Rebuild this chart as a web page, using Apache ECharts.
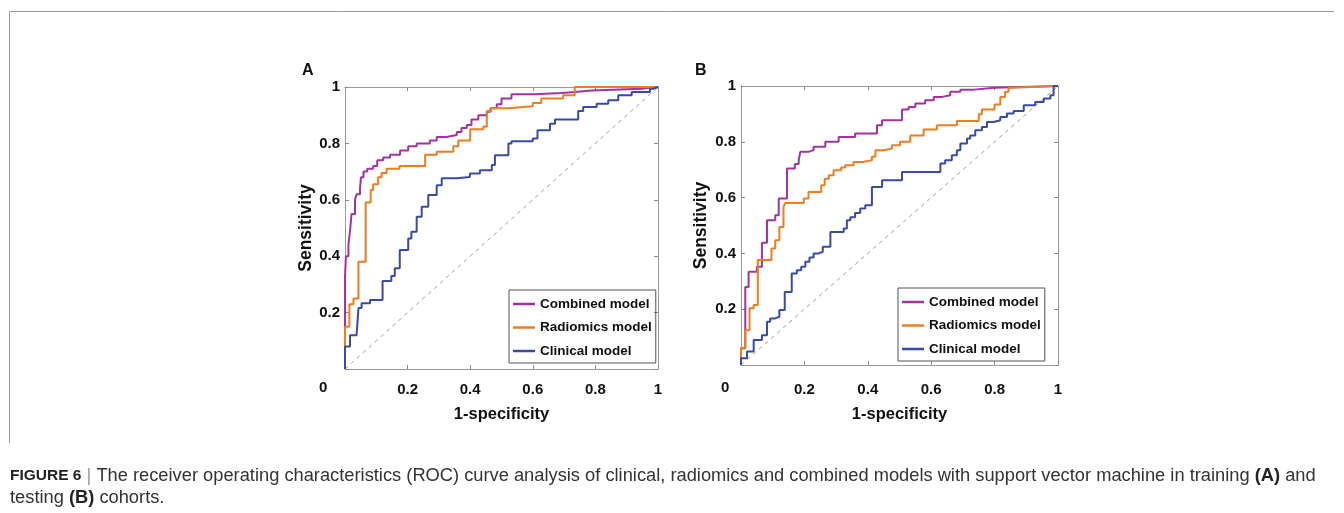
<!DOCTYPE html>
<html>
<head>
<meta charset="utf-8">
<script src="https://cdn.jsdelivr.net/npm/echarts@6/dist/echarts.min.js"></script>
<style>
html, body { margin: 0; padding: 0; background: #fff; }
#chart { width: 1344px; height: 513px; }
</style>
</head>
<body>
<div id="chart"></div>
<script>
// ROC curves, [1-specificity, sensitivity] at each step corner
const modelNames = ['Combined model', 'Radiomics model', 'Clinical model'];
const tickValues = [0, 0.2, 0.4, 0.6, 0.8, 1];

// panel A - training cohort
const combinedA = [[0,0],[0,0.33],[0.003,0.40],[0.011,0.44],[0.016,0.49],[0.021,0.55],[0.032,0.60],[0.037,0.62],[0.048,0.64],[0.051,0.68],[0.059,0.70],[0.071,0.71],[0.09,0.72],[0.103,0.74],[0.122,0.75],[0.144,0.76],[0.176,0.775],[0.202,0.79],[0.229,0.80],[0.271,0.81],[0.293,0.823],[0.324,0.83],[0.357,0.84],[0.372,0.855],[0.389,0.865],[0.404,0.885],[0.426,0.90],[0.453,0.912],[0.465,0.925],[0.485,0.939],[0.50,0.959],[0.532,0.974],[0.607,0.979],[0.692,0.982],[0.734,0.988],[0.788,0.994],[0.948,0.998],[0.98,1],[1,1]];
const radiomicsA = [[0,0],[0,0.15],[0.014,0.23],[0.027,0.25],[0.043,0.38],[0.066,0.59],[0.082,0.635],[0.09,0.655],[0.106,0.68],[0.117,0.695],[0.133,0.71],[0.174,0.72],[0.256,0.76],[0.293,0.77],[0.346,0.79],[0.362,0.81],[0.40,0.85],[0.442,0.86],[0.453,0.915],[0.465,0.925],[0.522,0.932],[0.60,0.943],[0.627,0.959],[0.697,0.971],[0.734,1],[1,1]];
const clinicalA = [[0,0],[0,0.08],[0.016,0.12],[0.037,0.127],[0.043,0.216],[0.053,0.233],[0.08,0.245],[0.12,0.312],[0.148,0.33],[0.159,0.357],[0.175,0.422],[0.202,0.463],[0.212,0.487],[0.229,0.54],[0.245,0.575],[0.266,0.617],[0.293,0.652],[0.309,0.676],[0.357,0.681],[0.399,0.693],[0.431,0.705],[0.469,0.723],[0.479,0.758],[0.522,0.80],[0.532,0.808],[0.60,0.817],[0.615,0.847],[0.655,0.87],[0.671,0.885],[0.745,0.915],[0.761,0.929],[0.804,0.941],[0.841,0.953],[0.873,0.971],[0.916,0.982],[0.974,0.994],[0.985,1],[1,1]];

// panel B - testing cohort
const combinedB = [[0,0],[0,0.06],[0.0135,0.28],[0.024,0.334],[0.05,0.352],[0.066,0.438],[0.082,0.519],[0.108,0.537],[0.119,0.597],[0.145,0.704],[0.17,0.72],[0.182,0.734],[0.187,0.764],[0.213,0.77],[0.229,0.782],[0.266,0.80],[0.308,0.817],[0.36,0.83],[0.429,0.859],[0.445,0.877],[0.508,0.916],[0.529,0.925],[0.55,0.937],[0.581,0.949],[0.608,0.961],[0.634,0.967],[0.66,0.979],[0.692,0.987],[0.734,0.994],[0.80,1],[1,1]];
const radiomicsB = [[0,0],[0,0.06],[0.0135,0.125],[0.027,0.203],[0.04,0.215],[0.053,0.376],[0.096,0.418],[0.108,0.447],[0.121,0.495],[0.134,0.567],[0.14,0.581],[0.198,0.597],[0.213,0.62],[0.253,0.644],[0.264,0.668],[0.277,0.68],[0.292,0.698],[0.316,0.708],[0.329,0.716],[0.355,0.728],[0.386,0.734],[0.413,0.746],[0.424,0.77],[0.45,0.776],[0.476,0.788],[0.502,0.80],[0.534,0.823],[0.576,0.844],[0.618,0.859],[0.681,0.875],[0.75,0.899],[0.76,0.916],[0.80,0.934],[0.818,0.961],[0.833,0.979],[0.844,0.994],[0.855,1],[1,1]];
const clinicalB = [[0,0],[0,0.024],[0.019,0.048],[0.04,0.09],[0.066,0.107],[0.082,0.155],[0.092,0.167],[0.108,0.173],[0.121,0.197],[0.138,0.262],[0.16,0.328],[0.176,0.34],[0.19,0.352],[0.203,0.37],[0.216,0.385],[0.229,0.40],[0.245,0.406],[0.258,0.424],[0.282,0.477],[0.324,0.489],[0.334,0.519],[0.345,0.53],[0.36,0.545],[0.376,0.561],[0.392,0.573],[0.413,0.638],[0.445,0.662],[0.508,0.692],[0.629,0.722],[0.644,0.734],[0.665,0.752],[0.681,0.77],[0.692,0.794],[0.713,0.812],[0.723,0.823],[0.739,0.841],[0.76,0.853],[0.776,0.871],[0.797,0.877],[0.818,0.889],[0.839,0.901],[0.86,0.91],[0.892,0.931],[0.928,0.943],[0.955,0.955],[0.976,0.967],[0.986,1],[1,1]];
const chanceLine = [[0,0],[1,1]];

const colors = ['#a2339f', '#ee7d21', '#3a4aa8'];
const font = "'Liberation Sans', Arial, sans-serif";

const chart = echarts.init(document.getElementById('chart'), null, { renderer: 'canvas' });

function valueAxis(grid, pos, showLabel, margin, name, nameGap, nameSize) {
    return {
        type: 'value',
        gridIndex: grid,
        position: pos,
        min: tickValues[0],
        max: tickValues[tickValues.length - 1],
        interval: 0.2,
        name: name || '',
        nameLocation: 'middle',
        nameGap: nameGap || 0,
        nameTextStyle: { fontSize: nameSize || 16, fontWeight: 'bold', color: '#111', fontFamily: font },
        splitLine: { show: false },
        axisLine: { show: true, onZero: false, lineStyle: { color: '#9a9a9a', width: 1 } },
        axisTick: { show: true, inside: true, length: 4, lineStyle: { color: '#8a8a8a' } },
        axisLabel: {
            show: showLabel,
            margin: margin || 8,
            fontSize: 15,
            fontWeight: 'bold',
            color: '#111',
            fontFamily: font,
            formatter: v => (v === 0 ? '' : String(+v.toFixed(1)))
        }
    };
}

function rocSeries(name, data, idx, color) {
    return {
        name: name,
        type: 'line',
        xAxisIndex: idx,
        yAxisIndex: idx,
        data: data,
        step: 'end',
        symbol: 'none',
        lineStyle: { color: color, width: 2 },
        itemStyle: { color: color },
        emphasis: { disabled: true }
    };
}

function diagSeries(idx) {
    return {
        type: 'line',
        xAxisIndex: idx,
        yAxisIndex: idx,
        data: chanceLine,
        symbol: 'none',
        silent: true,
        lineStyle: { color: '#a0a0a0', width: 1, type: [4, 4] }
    };
}

function legendBox(left, top) {
    return {
        left: left,
        top: top,
        orient: 'vertical',
        data: modelNames,
        icon: 'rect',
        itemWidth: 22,
        itemHeight: 2.5,
        itemGap: 7.5,
        padding: [6, 4, 4, 4],
        borderColor: '#555',
        borderWidth: 1,
        selectedMode: false,
        textStyle: { fontSize: 13.5, fontWeight: 'bold', color: '#111', lineHeight: 16, fontFamily: font }
    };
}

const option = {
    animation: false,
    backgroundColor: '#fff',
    textStyle: { fontFamily: font },
    grid: [
        { left: 345, top: 87, width: 313, height: 282 },
        { left: 741, top: 86, width: 317, height: 279 }
    ],
    xAxis: [
        valueAxis(0, 'bottom', true, 13, '1-specificity', 37, 16.5),
        valueAxis(0, 'top', false),
        valueAxis(1, 'bottom', true, 17, '1-specificity', 41, 16.5),
        valueAxis(1, 'top', false)
    ],
    yAxis: [
        valueAxis(0, 'left', true, 5, 'Sensitivity', 27, 17.5),
        valueAxis(0, 'right', false),
        valueAxis(1, 'left', true, 5, 'Sensitivity', 31, 17.5),
        valueAxis(1, 'right', false)
    ],
    legend: [legendBox(509, 290), legendBox(898, 288)],
    series: [
        diagSeries(0),
        rocSeries(modelNames[0], combinedA, 0, colors[0]),
        rocSeries(modelNames[1], radiomicsA, 0, colors[1]),
        rocSeries(modelNames[2], clinicalA, 0, colors[2]),
        diagSeries(2),
        rocSeries(modelNames[0], combinedB, 2, colors[0]),
        rocSeries(modelNames[1], radiomicsB, 2, colors[1]),
        rocSeries(modelNames[2], clinicalB, 2, colors[2])
    ],
    graphic: [
        // figure frame
        { type: 'line', shape: { x1: 9.5, y1: 11.5, x2: 1334, y2: 11.5 }, style: { stroke: '#9a9a9a', lineWidth: 1 } },
        { type: 'line', shape: { x1: 9.5, y1: 11.5, x2: 9.5, y2: 443 }, style: { stroke: '#9a9a9a', lineWidth: 1 } },
        // panel letters and corner zeros
        { type: 'text', left: 302, top: 63, style: { text: 'A', font: 'bold 16px ' + font, fill: '#111' } },
        { type: 'text', left: 695, top: 63, style: { text: 'B', font: 'bold 16px ' + font, fill: '#111' } },
        { type: 'text', left: 319, top: 380, style: { text: '0', font: 'bold 15px ' + font, fill: '#111' } },
        { type: 'text', left: 721, top: 380, style: { text: '0', font: 'bold 15px ' + font, fill: '#111' } },
        // caption
        {
            type: 'text', left: 10, top: 465,
            style: {
                text: '{f|FIGURE 6} {s||} The receiver operating characteristics (ROC) curve analysis of clinical, radiomics and combined models with support vector machine in training {b|(A)} and\ntesting {b|(B)} cohorts.',
                font: '18.3px ' + font,
                fill: '#333',
                lineHeight: 22,
                rich: {
                    f: { fontWeight: 'bold', fontSize: 15.5, fill: '#222', lineHeight: 22 },
                    b: { fontWeight: 'bold', fontSize: 18.3, fill: '#222', lineHeight: 22 },
                    s: { fill: '#999', fontSize: 18.3, lineHeight: 22 }
                }
            }
        }
    ]
};

chart.setOption(option);
</script>
</body>
</html>
